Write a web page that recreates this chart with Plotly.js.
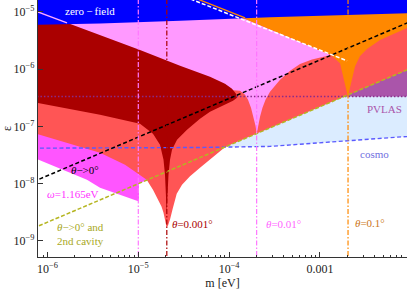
<!DOCTYPE html>
<html>
<head>
<meta charset="utf-8">
<script src="https://cdn.plot.ly/plotly-3.0.1.min.js"></script>
<style>html,body{margin:0;padding:0;background:#fff;}#chart{width:407px;height:291px;}</style>
</head>
<body>
<div id="chart"></div>
<script>
// ---- data (m in eV, epsilon) ----
const TOP = 1e-4;
const M_LEFT = 7e-7;
const M_RIGHT = 1.1e-2;

// zero-field (blue) lower edge
const zeroFieldM = [7e-7, 3.79e-6, 2.88e-5, 2.82e-4, 9.1e-3, 1.1e-2];
const zeroFieldE = [5.93e-6, 6.30e-6, 7.05e-6, 8.08e-6, 9.49e-6, 9.6e-6];

// cosmo lower edge (dashed line)
const cosmoM = [7e-7, 1.044e-5, 4.78e-5, 2.82e-4, 6.52e-4, 2.04e-3, 4.59e-3, 9.1e-3, 1.1e-2];
const cosmoE = [4.15e-8, 4.18e-8, 4.27e-8, 4.46e-8, 4.91e-8, 5.45e-8, 6.07e-8, 6.66e-8, 6.9e-8];

// PVLAS level
const pvlasE = 3.32e-7;

// theta->0 (black dashed) and theta->0 + 2nd cavity (olive dashed)
const lineM = [7e-7, 1e-6, 1e-5, 1e-4, 1e-3, 1e-2];
const theta0E = [1.08e-8, 1.376e-8, 6.50e-8, 3.07e-7, 1.447e-6, 6.83e-6];
const cavityE = [1.66e-9, 2.11e-9, 9.92e-9, 4.67e-8, 2.20e-7, 1.036e-6];

// coral region lower edge
const coralM = [7e-7, 1.769e-6, 3.79e-6, 7.14e-6, 1.237e-5, 1.451e-5, 1.648e-5, 1.80e-5, 1.895e-5, 1.968e-5, 2.05e-5, 2.124e-5, 2.234e-5, 2.38e-5, 2.648e-5, 3.03e-5, 3.71e-5, 4.78e-5, 6.16e-5, 7.36e-5, 8.78e-5, 1e-4, 1e-3, 1e-2, 1.1e-2];
const coralE = [7.7e-8, 4.97e-8, 3.46e-8, 2.14e-8, 1.17e-8, 7.82e-9, 5.24e-9, 3.95e-9, 3.10e-9, 2.25e-9, 1.70e-9, 1.84e-9, 2.34e-9, 3.50e-9, 6.66e-9, 9.57e-9, 1.335e-8, 1.895e-8, 2.61e-8, 3.26e-8, 4.2e-8, 4.67e-8, 2.2e-7, 1.036e-6, 1.10e-6];

// omega = 1.165 eV (magenta) region
const omegaM = [7e-7, 2.72e-6, 3.79e-6, 1.018e-5, 1.018e-5, 1.25e-5, 1.25e-5, 7e-7];
const omegaE = [2.83e-8, 1.17e-8, 8.48e-9, 4.83e-9, 1.0e-8, 1.15e-8, 1e-6, 1e-6];

// theta = 0.01 deg (pink) region
const pinkM = [7e-7, 1.044e-5, 4.78e-5, 9.01e-5, 1.104e-4, 1.318e-4, 1.50e-4, 1.614e-4, 1.742e-4, 1.856e-4, 1.953e-4, 2.014e-4, 2.08e-4, 2.19e-4, 2.33e-4, 2.518e-4, 2.82e-4, 3.64e-4, 4.69e-4, 6.04e-4, 8.18e-4, 1.081e-3, 1.32e-3, 4.69e-4, 1.50e-4, 4.78e-5, 4.78e-5, 7e-7];
const pinkE = [1.453e-6, 4.35e-7, 2.91e-7, 3.71e-7, 4.27e-7, 4.18e-7, 3.56e-7, 2.91e-7, 2.11e-7, 1.47e-7, 1.024e-7, 7.43e-8, 1.024e-7, 1.47e-7, 2.11e-7, 2.91e-7, 4.02e-7, 6.51e-7, 9.34e-7, 1.237e-6, 1.483e-6, 1.672e-6, 1.777e-6, 3.59e-6, 7.54e-6, 1.62e-5, 1e-4, 1e-4];

// theta = 0.001 deg (dark red) region
const darkM = [7e-7, 1.64e-6, 1.044e-5, 2.88e-5, 6.16e-5, 9.01e-5, 1.076e-4, 1.191e-4, 1.222e-4, 1.104e-4, 8.56e-5, 6.16e-5, 4.78e-5, 3.44e-5, 2.67e-5, 2.35e-5, 2.234e-5, 2.15e-5, 2.097e-5, 2.055e-5, 2.014e-5, 1.968e-5, 1.895e-5, 1.734e-5, 1.451e-5, 1.044e-5, 3.79e-6, 7e-7];
const darkE = [1.07e-5, 6.43e-6, 2.17e-6, 1.142e-6, 7.34e-7, 5.54e-7, 4.53e-7, 3.71e-7, 3.155e-7, 2.80e-7, 2.29e-7, 1.80e-7, 1.357e-7, 8.72e-8, 5.83e-8, 3.90e-8, 2.61e-8, 1.43e-8, 6.40e-9, 2.87e-9, 6.40e-9, 1.43e-8, 2.61e-8, 4.77e-8, 7.43e-8, 1.11e-7, 1.594e-7, 2.65e-7];

// theta = 0.1 deg (orange) region
const orangeM = [4.78e-5, 1.50e-4, 4.69e-4, 1.32e-3, 1.665e-3, 1.81e-3, 1.913e-3, 1.963e-3, 2.04e-3, 2.118e-3, 2.20e-3, 2.435e-3, 2.765e-3, 3.30e-3, 4.59e-3, 6.72e-3, 9.1e-3, 1.1e-2, 1.1e-2, 4.78e-5];
const orangeE = [1.62e-5, 7.54e-6, 3.59e-6, 1.777e-6, 1.272e-6, 7.43e-7, 4.72e-7, 4.35e-7, 3.22e-7, 4.35e-7, 5.70e-7, 1.11e-6, 1.707e-6, 2.26e-6, 3.245e-6, 4.30e-6, 5.26e-6, 5.7e-6, 1e-4, 1e-4];

// boundary lines over the zero-field band
const whiteLineM = [3.27e-5, 1.99e-3];
const whiteLineE = [1.84e-5, 1.40e-6];
const orangeLineM = [3.71e-5, 1.50e-4];
const orangeLineE = [1.90e-5, 7.86e-6];
const pinkLineM = [7e-7, 1.64e-6];
const pinkLineE = [1.07e-5, 6.43e-6];

// vertical resonance markers
const markerM = [1.0e-5, 2.06e-5, 2.01e-4, 2.04e-3];
const markerColors = ['#ff77ff', '#aa0000', '#ff77ff', '#ff8800'];

// ticks
const xTickVals = [1e-6, 1e-5, 1e-4, 1e-3];
const xTickText = ['10<sup>\u22126</sup>', '10<sup>\u22125</sup>', '10<sup>\u22124</sup>', '0.001'];
const yTickVals = [1e-9, 1e-8, 1e-7, 1e-6, 1e-5];
const yTickText = ['10<sup>\u22129</sup>', '10<sup>\u22128</sup>', '10<sup>\u22127</sup>', '10<sup>\u22126</sup>', '10<sup>\u22125</sup>'];
const xMinor = [];
[1e-6, 1e-5, 1e-4, 1e-3].forEach(d => { for (let k = 2; k <= 9; k++) xMinor.push(k * d); });
xMinor.unshift(8e-7, 9e-7);

// ---- traces ----
function region(m, e, color) {
  return {x: m, y: e, type: 'scatter', mode: 'lines', fill: 'toself', fillcolor: color,
          line: {width: 0, color: color}, hoverinfo: 'skip', showlegend: false};
}
function line(m, e, color, width, dash) {
  return {x: m, y: e, type: 'scatter', mode: 'lines',
          line: {width: width, color: color, dash: dash}, hoverinfo: 'skip', showlegend: false};
}

const traces = [];
traces.push(region(cosmoM.concat([M_RIGHT, M_LEFT]), cosmoE.concat([TOP, TOP]), '#dbecff'));
traces.push(region([M_LEFT, M_RIGHT, M_RIGHT, M_LEFT], [pvlasE, pvlasE, TOP, TOP], '#aa55aa'));
traces.push(region(omegaM, omegaE, '#ff55ff'));
traces.push(region(coralM.concat([M_RIGHT, M_LEFT]), coralE.concat([TOP, TOP]), '#ff5555'));
traces.push(region(pinkM, pinkE, '#ff99ff'));
traces.push(region(darkM, darkE, '#aa0000'));
traces.push(region(orangeM, orangeE, '#ff8800'));
traces.push(region(zeroFieldM.concat([M_RIGHT, M_LEFT]), zeroFieldE.concat([TOP, TOP]), '#0000ff'));

traces.push(line([M_LEFT, M_RIGHT], [pvlasE, pvlasE], '#8a2a8a', 1.6, '1.5px,2px'));
traces.push(line(cosmoM, cosmoE, '#5a5aff', 1.4, '4px,2.5px'));
traces.push(line(lineM, cavityE, '#b5b520', 1.5, '4px,2px'));
traces.push(line(lineM, theta0E, '#000000', 1.5, '4px,2.5px'));
traces.push(line(whiteLineM, whiteLineE, '#ffffff', 1.5, '4px,2px'));
traces.push(line(orangeLineM, orangeLineE, '#ff8800', 1.3, 'solid'));
traces.push(line(pinkLineM, pinkLineE, '#ffaaff', 1.3, 'solid'));
markerM.forEach((m, i) => traces.push(line([m, m], [1e-10, TOP], markerColors[i], 1.2, '5px,2px,1.5px,2px')));

// ---- labels ----
function label(text, px, py, color) {
  return {text: text, xref: 'paper', yref: 'paper', x: px, y: py, showarrow: false,
          xanchor: 'center', yanchor: 'middle', font: {family: 'Liberation Serif', size: 11, color: color}};
}
const annotations = [
  label('zero\u2009\u2212\u2009field', 0.141, 0.957, '#ffffff'),
  label('<i>\u03b8</i>\u2212>0\u00b0', 0.127, 0.340, '#000000'),
  label('<i>\u03c9</i>=1.165eV', 0.095, 0.247, '#ff33ff'),
  label('<i>\u03b8</i>\u2212>0\u00b0 and<br>2nd cavity', 0.114, 0.090, '#a8a824'),
  label('<i>\u03b8</i>=0.001\u00b0', 0.420, 0.130, '#aa0000'),
  label('<i>\u03b8</i>=0.01\u00b0', 0.664, 0.130, '#ff66ff'),
  label('<i>\u03b8</i>=0.1\u00b0', 0.900, 0.134, '#cc7722'),
  label('PVLAS', 0.940, 0.577, '#aa55aa'),
  label('cosmo', 0.913, 0.402, '#6f6fe0')
];

const axisCommon = {
  type: 'log', showgrid: false, zeroline: false, showline: true, linecolor: '#333', linewidth: 1.2,
  ticks: 'inside', ticklen: 5, tickcolor: '#333', tickwidth: 1, tickmode: 'array',
  tickfont: {family: 'Liberation Serif', size: 12, color: '#222'}
};

const layout = {
  width: 407, height: 291,
  margin: {l: 38, r: 0, t: 0, b: 34, pad: 0},
  paper_bgcolor: '#ffffff', plot_bgcolor: '#ffffff',
  showlegend: false,
  xaxis: Object.assign({}, axisCommon, {
    range: [-6.1046, -2.041], tickvals: xTickVals, ticktext: xTickText,
    minor: {tickmode: 'array', tickvals: xMinor, ticks: 'inside', ticklen: 2.5, tickcolor: '#333', showgrid: false},
    title: {text: 'm [eV]', font: {family: 'Liberation Serif', size: 12, color: '#222'}, standoff: 2}
  }),
  yaxis: Object.assign({}, axisCommon, {
    range: [-9.2845, -4.7906], tickvals: yTickVals, ticktext: yTickText,
    title: {text: '\u03b5', font: {family: 'Liberation Serif', size: 12, color: '#222'}, standoff: 2}
  }),
  annotations: annotations
};

Plotly.newPlot('chart', traces, layout, {staticPlot: true, displayModeBar: false});
</script>
</body>
</html>
